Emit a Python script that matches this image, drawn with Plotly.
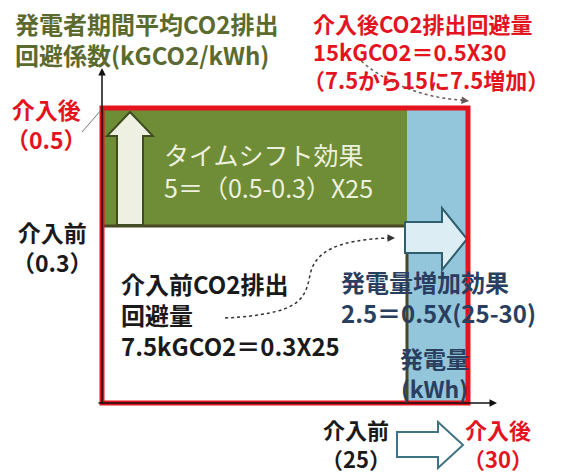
import plotly.graph_objects as go

W, H = 571, 476

# ---- data ----
gen_before = 25        # kWh before intervention
gen_after = 30         # kWh after intervention
coef_before = 0.3      # kgCO2/kWh before
coef_after = 0.5       # kgCO2/kWh after

y_title_lines = ["発電者期間平均CO2排出", "回避係数(kGCO2/kWh)"]
after_total_lines = ["介入後CO2排出回避量", "15kGCO2＝0.5X30", "（7.5から15に7.5増加）"]
timeshift_lines = ["タイムシフト効果", "5＝（0.5-0.3）X25"]
before_lines = ["介入前CO2排出", "回避量", "7.5kGCO2＝0.3X25"]
gen_effect_lines = ["発電量増加効果", "2.5＝0.5X(25-30)"]
x_title_lines = ["発電量", "(kWh)"]
y_tick_after = ["介入後", "（0.5）"]
y_tick_before = ["介入前", "（0.3）"]
x_tick_before = ["介入前", "（25）"]
x_tick_after = ["介入後", "（30）"]

# ---- colours ----
RED = "#e3141e"
GREEN = "#6f8c37"
BLUE = "#93c6da"
OLIVE_BORDER = "#4a4824"
OLIVE_TEXT = "#5b6b2f"
NAVY = "#2a3f5f"
FONT = "Noto Sans CJK JP"

# axis ranges chosen so the diagram sits where it does in the picture
x_scale, x_origin_px = 12.2, 102
y_scale, y_origin_px = 590, 403
x_range = [-x_origin_px / x_scale, (W - x_origin_px) / x_scale]
y_range = [-(H - y_origin_px) / y_scale, y_origin_px / y_scale]


def px(x):
    return x / W


def py(y):
    return 1 - y / H


def ppath(points, close=True):
    s = "M " + " L ".join(f"{px(a):.5f},{py(b):.5f}" for a, b in points)
    return s + (" Z" if close else "")


fig = go.Figure()

# blue (generation increase) block
fig.add_trace(go.Scatter(
    x=[gen_before, gen_after, gen_after, gen_before, gen_before],
    y=[0, 0, coef_after, coef_after, 0],
    fill="toself", fillcolor=BLUE, mode="lines", line=dict(width=0),
    hoverinfo="skip", showlegend=False))
# green (time-shift) block
fig.add_trace(go.Scatter(
    x=[0, gen_before, gen_before, 0, 0],
    y=[coef_before, coef_before, coef_after, coef_after, coef_before],
    fill="toself", fillcolor=GREEN, mode="lines", line=dict(width=0),
    hoverinfo="skip", showlegend=False))
# white (before) block
fig.add_trace(go.Scatter(
    x=[0, gen_before, gen_before, 0, 0],
    y=[0, 0, coef_before, coef_before, 0],
    fill="toself", fillcolor="white", mode="lines",
    line=dict(width=3, color=OLIVE_BORDER),
    hoverinfo="skip", showlegend=False))

shapes = []
# up arrow in green block
shapes.append(dict(type="path", xref="paper", yref="paper", layer="above",
                   path=ppath([(117, 225), (117, 136), (107, 136), (130, 112),
                               (153, 136), (143, 136), (143, 225)]),
                   fillcolor="#eef0e2", line=dict(color="#3f4d20", width=2)))
# right arrow in blue block
shapes.append(dict(type="path", xref="paper", yref="paper", layer="above",
                   path=ppath([(405, 222), (442, 222), (442, 208), (467, 239),
                               (442, 270), (442, 253), (405, 253)]),
                   fillcolor="#dcedf4", line=dict(color="#2f5f6e", width=2)))
# red outline (after)
shapes.append(dict(type="rect", xref="x", yref="y", layer="above",
                   x0=0, x1=gen_after, y0=0, y1=coef_after,
                   line=dict(color=RED, width=5), fillcolor="rgba(0,0,0,0)"))
# leader line from y label to axis
shapes.append(dict(type="line", xref="paper", yref="paper", layer="above",
                   x0=px(82), y0=py(132), x1=px(102), y1=py(109),
                   line=dict(color="#777777", width=1)))
# dashed curves
shapes.append(dict(type="path", xref="paper", yref="paper", layer="above",
                   path=f"M {px(225)},{py(318)} C {px(300)},{py(314)} {px(305)},{py(300)} {px(310)},{py(275)} "
                        f"C {px(315)},{py(250)} {px(340)},{py(240)} {px(388)},{py(238)}",
                   line=dict(color="#333333", width=1.5, dash="dot")))
shapes.append(dict(type="path", xref="paper", yref="paper", layer="above",
                   path=f"M {px(357)},{py(57)} C {px(380)},{py(80)} {px(420)},{py(98)} {px(462)},{py(100)}",
                   line=dict(color="#6a5a5a", width=1.5, dash="dot")))
# bottom hollow arrow
shapes.append(dict(type="path", xref="paper", yref="paper", layer="above",
                   path=ppath([(397, 432), (438, 432), (438, 422), (463, 445),
                               (438, 468), (438, 457), (397, 457)]),
                   fillcolor="white", line=dict(color="#3f7282", width=2)))

ann = []
# axis arrows
ann.append(dict(x=0, y=py(68), xref="x", yref="paper", text="", showarrow=True,
                ax=0, ay=337, arrowhead=2, arrowsize=1, arrowwidth=1.5, arrowcolor="#111"))
ann.append(dict(x=px(497), y=0, xref="paper", yref="y", text="", showarrow=True,
                ax=-400, ay=0, arrowhead=2, arrowsize=1, arrowwidth=1.5, arrowcolor="#111"))
# arrowheads for dashed curves
ann.append(dict(x=px(395), y=py(238), xref="paper", yref="paper", text="", showarrow=True,
                ax=-9, ay=0, arrowhead=2, arrowsize=1, arrowwidth=1.5, arrowcolor="#333"))
ann.append(dict(x=px(469), y=py(101), xref="paper", yref="paper", text="", showarrow=True,
                ax=-9, ay=-1, arrowhead=2, arrowsize=1, arrowwidth=1.5, arrowcolor="#6a5a5a"))


def txt(lines, x, y, color, size, bold=True, xanchor="left"):
    ann.append(dict(text="<br>".join(lines), x=px(x), y=py(y), xref="paper", yref="paper",
                    xanchor=xanchor, yanchor="middle", showarrow=False,
                    align="left" if xanchor == "left" else "center",
                    font=dict(family=FONT, size=size, color=color,
                              weight="bold" if bold else "normal")))


txt(y_title_lines, 13, 39, OLIVE_TEXT, 24)
txt(after_total_lines[:1], 311, 23, RED, 22)
txt(after_total_lines[1:2], 311, 51, RED, 22)
txt(after_total_lines[2:], 301, 79, RED, 22)
txt(timeshift_lines, 162, 170, "#eef0de", 25, bold=False)
txt(before_lines, 119, 314, "#1a1a1a", 24)
txt(gen_effect_lines, 339, 297, NAVY, 24)
txt(x_title_lines, 434, 373, NAVY, 23, xanchor="center")
txt(y_tick_after, 46, 124, RED, 23, xanchor="center")
txt(y_tick_before, 53, 247, "#1a1a1a", 23, xanchor="center")
txt(x_tick_before, 356, 443, "#1a1a1a", 22, xanchor="center")
txt(x_tick_after, 498, 443, RED, 22, xanchor="center")

fig.update_layout(
    width=W, height=H, margin=dict(l=0, r=0, t=0, b=0),
    paper_bgcolor="white", plot_bgcolor="white",
    xaxis=dict(range=x_range, visible=False, fixedrange=True),
    yaxis=dict(range=y_range, visible=False, fixedrange=True),
    shapes=shapes, annotations=ann, showlegend=False,
)

fig.write_html("out.html")
